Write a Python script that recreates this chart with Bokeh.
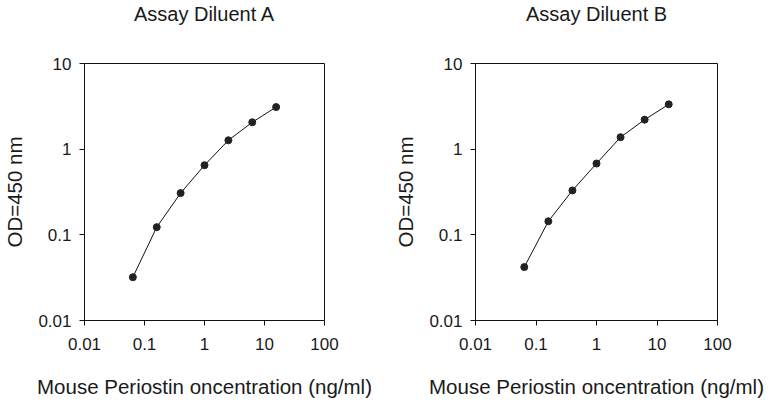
from bokeh.plotting import figure
from bokeh.layouts import row
from bokeh.models import FixedTicker, Title
from bokeh.embed import file_html
from bokeh.resources import INLINE

# Data
conc = [0.064, 0.16, 0.4, 1.0, 2.5, 6.25, 15.625]
od_a = [0.032, 0.123, 0.307, 0.65, 1.27, 2.06, 3.1]
od_b = [0.042, 0.144, 0.33, 0.68, 1.38, 2.21, 3.34]
titles = ["Assay Diluent A", "Assay Diluent B"]
x_ticks = [0.01, 0.1, 1, 10, 100]
x_tick_labels = ["0.01", "0.1", "1", "10", "100"]
y_ticks = [0.01, 0.1, 1, 10]
y_tick_labels = ["0.01", "0.1", "1", "10"]
x_label = "Mouse Periostin oncentration (ng/ml)"
y_label = "OD=450 nm"

FONT = "Liberation Sans"
TXT = "#1a1a1a"


def make_panel(title, ys, width, left, right):
    p = figure(width=width, height=404, x_axis_type="log", y_axis_type="log",
               x_range=(0.01, 100), y_range=(0.01, 10),
               output_backend="svg", toolbar_location=None,
               min_border_left=left, min_border_right=right,
               min_border_top=63, min_border_bottom=84)
    # spacer panel between frame and title (nearest to frame)
    p.add_layout(Title(text=" ", text_font=FONT, text_font_size="20px",
                       standoff=16), "above")
    p.add_layout(Title(text=title, text_font=FONT, text_font_size="20px",
                       text_font_style="normal", text_color=TXT,
                       align="center", standoff=-2), "above")
    p.grid.visible = False
    p.outline_line_color = "#111111"
    p.outline_line_width = 1
    p.outline_line_alpha = 1
    p.background_fill_color = "white"
    p.border_fill_color = "white"

    for ax, ticks, labels, lab in ((p.xaxis[0], x_ticks, x_tick_labels, x_label),
                                   (p.yaxis[0], y_ticks, y_tick_labels, y_label)):
        ax.ticker = FixedTicker(ticks=ticks)
        ax.major_label_overrides = {t: l for t, l in zip(ticks, labels)}
        ax.axis_label = lab
        ax.axis_label_text_font = FONT
        ax.axis_label_text_font_size = "20.5px"
        ax.axis_label_text_font_style = "normal"
        ax.axis_label_text_color = TXT
        ax.major_label_text_font = FONT
        ax.major_label_text_font_size = "17px"
        ax.major_label_text_color = TXT
        ax.axis_line_color = "#111111"
        ax.major_tick_line_color = "#111111"
        ax.major_tick_out = 5
        ax.major_tick_in = 0
        ax.minor_tick_line_color = None

    p.xaxis.major_label_standoff = 12
    p.xaxis.axis_label_standoff = 22
    p.yaxis.major_label_standoff = 8
    p.yaxis.axis_label_standoff = 9

    p.line(conc, ys, line_color="#111111", line_width=1)
    p.scatter(conc, ys, size=7, marker="circle",
              fill_color="#222222", line_color="#222222")
    return p


p1 = make_panel(titles[0], od_a, 389, 82, 65)
p2 = make_panel(titles[1], od_b, 389, 86, 61)
layout = row(p1, p2, spacing=0)

open("out.html", "w").write(file_html(layout, INLINE))
